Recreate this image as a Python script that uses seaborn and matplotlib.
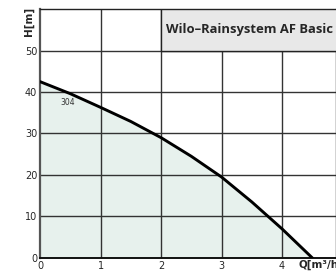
import matplotlib
matplotlib.use("Agg")
import matplotlib.pyplot as plt
import seaborn as sns
import pandas as pd
import numpy as np

q = [0.0, 0.5, 1.0, 1.5, 2.0, 2.5, 3.0, 3.5, 4.0, 4.5]
h = [42.5, 39.6, 36.3, 32.9, 29.0, 24.5, 19.5, 13.5, 7.0, 0.0]
x_ticks = [0, 1, 2, 3, 4]
y_ticks = [0, 10, 20, 30, 40, 50]
title = "Wilo–Rainsystem AF Basic"
curve_label = "304"

df = pd.DataFrame({"Q": q, "H": h})

sns.set_style("white")
plt.rcParams['font.family'] = ['DejaVu Sans']

fig = plt.figure(figsize=(3.36, 2.73), dpi=100)
ax = fig.add_axes([0.119, 0.055, 0.881, 0.912])

ax.fill_between(df["Q"], df["H"], 0, color="#e7f1ed", zorder=1)
sns.lineplot(data=df, x="Q", y="H", ax=ax, color="black", linewidth=2.1, zorder=4)

ax.set_xlim(0, 4.89)
ax.set_ylim(0, 60)
ax.set_xticks(x_ticks)
ax.set_yticks(y_ticks)
ax.set_xticklabels([str(t) for t in x_ticks], fontsize=7)
ax.set_yticklabels([str(t) for t in y_ticks], fontsize=7)
ax.tick_params(length=0, pad=2)
ax.set_xlabel("")
ax.set_ylabel("")

for t in x_ticks[1:] + [5]:
    ax.axvline(t, color="#333333", linewidth=1.0, zorder=2)
for t in y_ticks[1:]:
    ax.axhline(t, color="#333333", linewidth=1.0, zorder=2)

ax.add_patch(plt.Rectangle((2, 50), 3, 10, facecolor="#e8e8e8", edgecolor="#222222",
                           linewidth=1.0, zorder=3))
ax.text(2.08, 55, title, fontsize=9.4, fontweight="bold", va="center", ha="left",
        zorder=5, family=["Open Sans", "DejaVu Sans"])
ax.text(0.45, 37.4, curve_label, fontsize=5.5, color="#333333", ha="center", va="center", zorder=5)

for s in ["top", "right"]:
    ax.spines[s].set_visible(True)
    ax.spines[s].set_color("#222222")
    ax.spines[s].set_linewidth(1.0)
ax.spines["left"].set_color("#555555")
ax.spines["left"].set_linewidth(1.6)
ax.spines["bottom"].set_color("#111111")
ax.spines["bottom"].set_linewidth(1.4)

fig.text(0.087, 0.92, "H[m]", rotation=90, fontsize=7.5, fontweight="bold", ha="center", va="center")
fig.text(0.888, 0.012, "Q[m³/h]", fontsize=7.5, fontweight="bold", ha="left", va="bottom")

fig.savefig("out.png", dpi=100)
